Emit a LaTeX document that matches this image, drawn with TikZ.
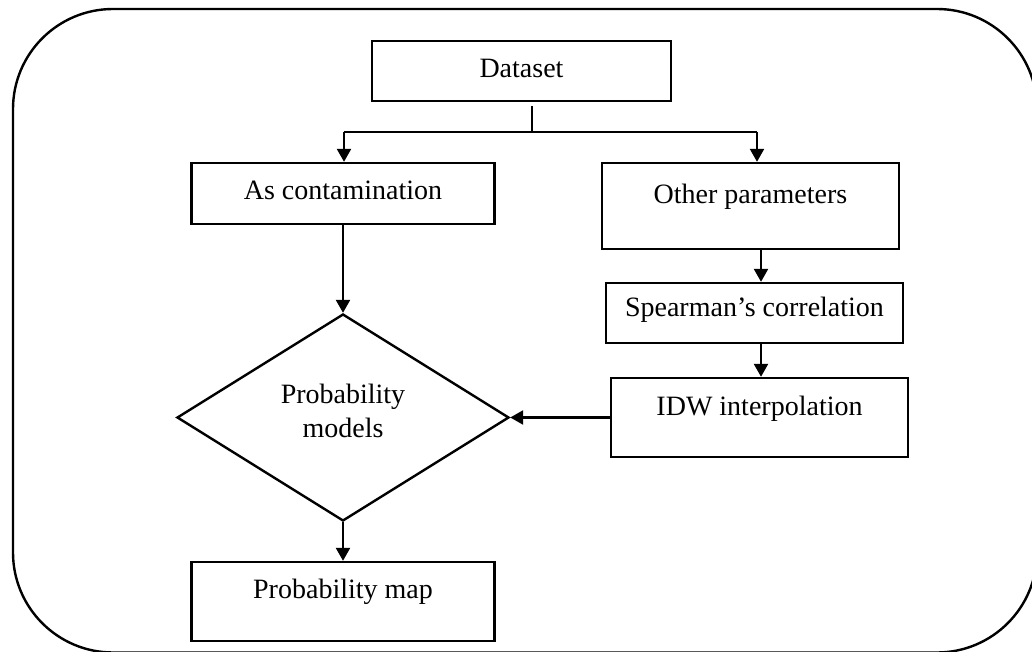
\documentclass[tikz,border=0pt]{standalone}
\usepackage{fontspec}
\setmainfont{Liberation Serif}
\usetikzlibrary{shapes.geometric,arrows.meta}
\begin{document}
\begin{tikzpicture}[x=0.5pt,y=-0.5pt,
  box/.style={draw,line width=1.2pt,rectangle,inner sep=0pt},
  txt/.style={font=\fontsize{14}{17}\selectfont,align=center},
  arr/.style={line width=1.2pt,-{Triangle[length=6.5pt,width=7pt]}},
  thinline/.style={line width=0.6pt}]
\useasboundingbox (0,0) rectangle (1032,652);
\clip (0,0) rectangle (1032,652);
\draw[line width=1.2pt, rounded corners=50pt] (13,9) rectangle (1037,652.5);

\node[box,minimum width=149.5pt,minimum height=30pt,label={[txt,yshift=1.5pt]center:Dataset}] (dataset) at (521.5,71) {};
\node[box,minimum width=151.5pt,minimum height=30.5pt,label={[txt,yshift=1.75pt]center:As contamination}] (ascont) at (343,193.5) {};
\node[box,minimum width=148.5pt,minimum height=43pt,label={[txt,yshift=4.5pt]center:Other parameters}] (other) at (750.5,206) {};
\node[box,minimum width=148.5pt,minimum height=30pt,label={[txt,yshift=1.5pt]center:Spearman’s correlation}] (spear) at (754.5,313) {};
\node[box,minimum width=148.5pt,minimum height=39.5pt,label={[txt,yshift=4.25pt]center:IDW interpolation}] (idw) at (759.5,417.5) {};
\node[diamond,draw,line width=1.2pt,inner sep=0pt,minimum width=166pt,minimum height=103.5pt,label={[txt,yshift=3.5pt]center:Probability\\models}] (pm) at (343,417.5) {};
\node[box,minimum width=151.5pt,minimum height=39.5pt,label={[txt,yshift=4.75pt]center:Probability map}] (pmap) at (343,601.5) {};

\coordinate (L) at (344,132);
\coordinate (R) at (757,132);
\coordinate (S) at (532,132);
\coordinate (V) at (761,0);
\draw[thinline,shorten <=2pt] (S |- dataset.south) -- (S);
\draw[thinline] (L) -- (R);
\draw[arr] (L) -- (L |- ascont.north);
\draw[arr] (R) -- (R |- other.north);
\draw[arr] (V |- other.south) -- (V |- spear.north);
\draw[arr] (V |- spear.south) -- (V |- idw.north);
\draw[arr] (idw.west) -- (pm.east);
\draw[arr] (ascont.south) -- (pm.north);
\draw[arr] (pm.south) -- (pmap.north);
\end{tikzpicture}
\end{document}
